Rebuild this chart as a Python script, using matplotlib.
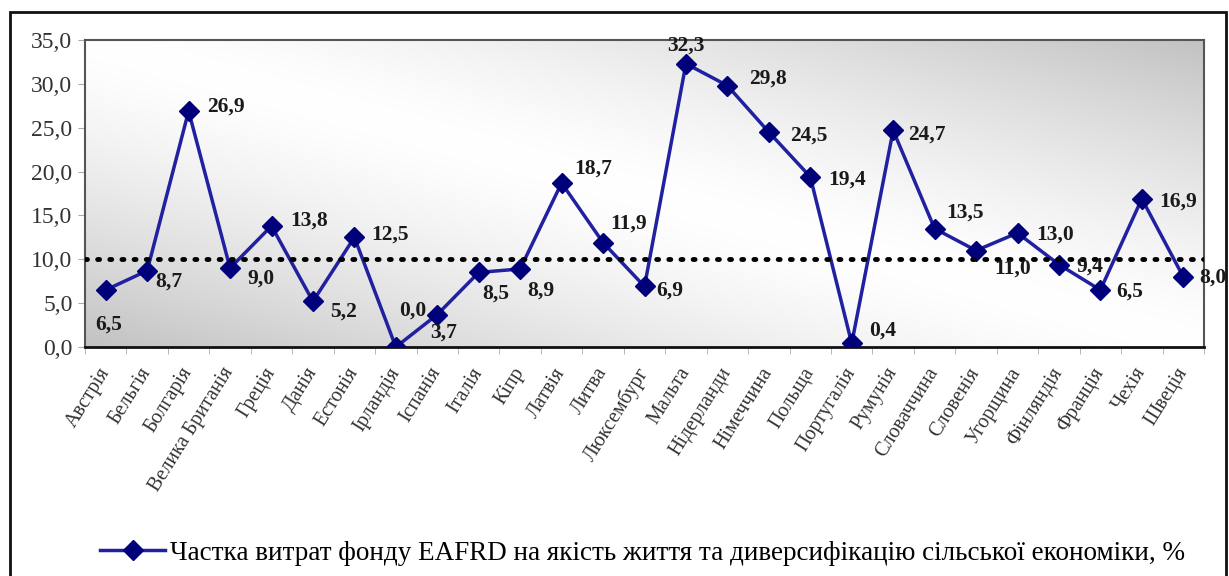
import matplotlib
matplotlib.use('Agg')
import matplotlib.pyplot as plt
import numpy as np
from matplotlib.patches import Rectangle
from matplotlib.lines import Line2D

countries = ['Австрія', 'Бельгія', 'Болгарія', 'Велика Британія', 'Греція', 'Данія',
             'Естонія', 'Ірландія', 'Іспанія', 'Італія', 'Кіпр', 'Латвія', 'Литва',
             'Люксембург', 'Мальта', 'Нідерланди', 'Німеччина', 'Польща', 'Португалія',
             'Румунія', 'Словаччина', 'Словенія', 'Угорщина', 'Фінляндія', 'Франція',
             'Чехія', 'Швеція']
share = [6.5, 8.7, 26.9, 9.0, 13.8, 5.2, 12.5, 0.0, 3.7, 8.5, 8.9, 18.7, 11.9,
         6.9, 32.3, 29.8, 24.5, 19.4, 0.4, 24.7, 13.5, 11.0, 13.0, 9.4, 6.5, 16.9, 8.0]
avg_level = 10.0
series_name = 'Частка витрат фонду EAFRD на якість життя та диверсифікацію сільської економіки, %'

# label offsets in pixels (dx, dy) relative to each point
offsets = [(3, -35), (22, -11), (37, 4), (31, -11), (38, 5), (31, -10), (36, 3),
           (17, 36), (6, -18), (17, -21), (21, -22), (32, 14), (26, 19), (25, -4),
           (0, 18), (41, 7), (40, -3), (37, -3), (31, 13), (34, -4), (30, 16),
           (37, -18), (38, -2), (31, -2), (29, -2), (36, -3), (30, -1)]

plt.rcParams['font.family'] = ['Liberation Serif', 'DejaVu Serif']

W, H = 1229, 576
fig = plt.figure(figsize=(W / 100, H / 100), dpi=100)
fig.patch.set_facecolor('white')
ax = fig.add_axes([85 / W, 1 - 347 / H, (1204 - 85) / W, (347 - 40) / H])

# diagonal gradient background (gray corners bottom-left / top-right)
u, v = np.meshgrid(np.linspace(0, 1, 400), np.linspace(0, 1, 200))
t = np.abs((u + v) / 2 - 0.5) * 2
shade = 1 - 0.24 * t ** 1.4
img = np.dstack([shade, shade, shade])
ax.imshow(img, extent=[0, 1, 0, 1], transform=ax.transAxes, origin='lower',
          aspect='auto', zorder=0, interpolation='bilinear')

x = np.arange(len(countries))
ax.plot(x, share, color='#2020a0', lw=2.5, marker='D', markersize=10,
        markerfacecolor='#00007a', markeredgecolor='#00007a', zorder=3)
ax.axhline(avg_level, color='black', lw=3.5, ls=(0, (0.4, 2.1)),
           dash_capstyle='round', zorder=4)

for xi, val, (dx, dy) in zip(x, share, offsets):
    ax.annotate(('%.1f' % val).replace('.', ','), (xi, val), xytext=(dx, dy),
                textcoords='offset pixels', ha='center', va='center',
                fontsize=15.5, fontweight='bold', color='#1a1a1a', zorder=5)

ax.set_xlim(-0.5, len(countries) - 0.5)
ax.set_ylim(0, 35)
ax.set_yticks(np.arange(0, 36, 5))
ax.set_yticklabels([('%.1f' % v_).replace('.', ',') for v_ in np.arange(0, 36, 5)],
                   fontsize=17, color='#333333')
ax.set_xticks(x)
ax.set_xticklabels(countries, rotation=58, ha='right', va='center',
                   rotation_mode='anchor', fontsize=14.5, color='#333333')
ax.tick_params(axis='x', length=0, pad=16)
ax.set_xticks(np.arange(-0.5, len(countries), 1), minor=True)
ax.tick_params(axis='x', which='minor', length=5, color='#aaaaaa', direction='out')
ax.tick_params(axis='y', length=5, color='#aaaaaa', direction='out', pad=4)

for side, sp in ax.spines.items():
    sp.set_color('#555555')
    sp.set_linewidth(1.5)
ax.spines['bottom'].set_color('#111111')
ax.spines['bottom'].set_linewidth(2)

# legend at the bottom
handle = Line2D([0], [0], color='#2020a0', lw=2.5, marker='D', markersize=10,
                markerfacecolor='#00007a', markeredgecolor='#00007a')
fig.legend([handle], [series_name], loc='center', bbox_to_anchor=(0.523, 1 - 553 / H),
           frameon=False, fontsize=19.5, handlelength=2.4, handletextpad=0.2)

# outer frame around the whole chart
fig.add_artist(Rectangle((10 / W, -0.01), (1226 - 10) / W, (H - 12) / H + 0.01,
                         transform=fig.transFigure, fill=False, lw=2, edgecolor='#111111'))

plt.savefig('out.png', dpi=100)
